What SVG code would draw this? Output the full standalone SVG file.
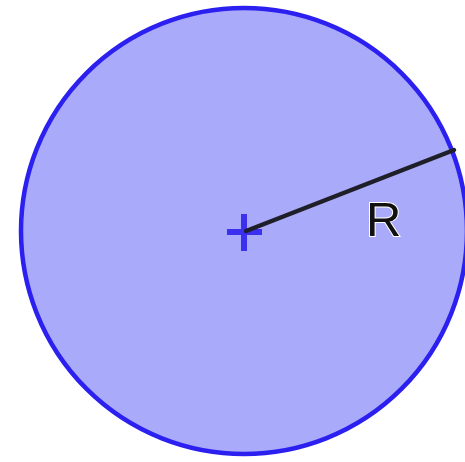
<svg xmlns="http://www.w3.org/2000/svg" width="465" height="462" viewBox="0 0 465 462">
<style>
.circ{fill:#aaaafa;stroke:#2b20f0;stroke-width:4.5}
.cross{stroke:#3b30f0;stroke-width:6;fill:none}
.radius{stroke:#1f1f2a;stroke-width:4.5;stroke-linecap:round}
.lbl{font-family:"Liberation Sans",Arial,sans-serif;font-size:49px;fill:#111;stroke:#fff;stroke-width:2;paint-order:stroke}
</style>
<rect width="465" height="462" fill="#fff"/>
<g id="circle"><circle class="circ" cx="244" cy="231" r="223"/></g>
<g id="center"><path class="cross" d="M227 232H262M244 214V251"/></g>
<g id="connectors"><line class="radius" x1="246" y1="231" x2="454" y2="150"/></g>
<g id="label"><text class="lbl" x="366" y="236">R</text></g>
</svg>
